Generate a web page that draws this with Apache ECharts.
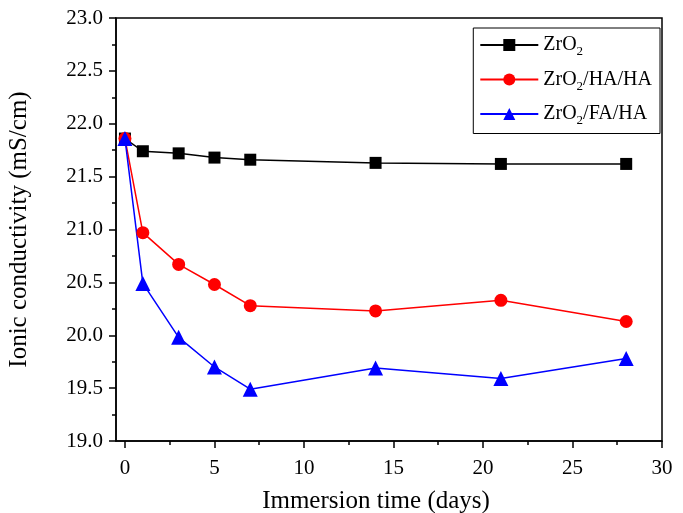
<!DOCTYPE html>
<html>
<head>
<meta charset="utf-8">
<script src="https://cdn.jsdelivr.net/npm/echarts@6/dist/echarts.min.js"></script>
<style>
  html, body { margin: 0; padding: 0; background: #fff; }
  #main { width: 683px; height: 513px; }
</style>
</head>
<body>
<div id="main"></div>
<script>
var days = [0, 1, 3, 5, 7, 14, 21, 28];
var zro2 = [21.86, 21.74, 21.72, 21.68, 21.66, 21.63, 21.62, 21.62];
var zro2HaHa = [21.86, 20.97, 20.67, 20.48, 20.28, 20.23, 20.33, 20.13];
var zro2FaHa = [21.86, 20.49, 19.98, 19.70, 19.49, 19.69, 19.59, 19.78];
var xMajorTicks = [0, 5, 10, 15, 20, 25, 30];
var xMinorTicks = [2.5, 7.5, 12.5, 17.5, 22.5, 27.5];
var seriesNames = ['ZrO{s|2}', 'ZrO{s|2}/HA/HA', 'ZrO{s|2}/FA/HA'];

function pairs(ys) {
    return days.map(function (d, i) { return [d, ys[i]]; });
}

var font = 'Liberation Serif';
var chart = echarts.init(document.getElementById('main'));

var option = {
    animation: false,
    grid: {
        left: 116, right: 21, top: 18, bottom: 72,
        outerBoundsMode: 'none',
        show: true, borderColor: '#000', borderWidth: 1.5
    },
    legend: {
        orient: 'vertical',
        right: 23, top: 28,
        itemWidth: 58, itemHeight: 15,
        itemGap: 11,
        padding: [7, 8, 6, 6],
        borderColor: '#000', borderWidth: 1,
        data: seriesNames,
        textStyle: {
            fontFamily: font, fontSize: 20, color: '#000',
            rich: { s: { fontFamily: font, fontSize: 13, verticalAlign: 'bottom', padding: [14, 0, 0, 0] } }
        }
    },
    xAxis: [{
        type: 'value', min: -0.5, max: 30,
        name: 'Immersion time (days)', nameLocation: 'middle', nameGap: 48,
        nameTextStyle: { fontFamily: font, fontSize: 25, color: '#000', padding: [0, 26, 0, 0] },
        axisLine: { onZero: false, lineStyle: { color: '#000', width: 1.5 } },
        axisTick: { show: true, inside: false, customValues: xMajorTicks, length: 7, lineStyle: { color: '#000', width: 1.5 } },
        axisLabel: { customValues: xMajorTicks, fontFamily: font, fontSize: 21, color: '#000', margin: 17 },
        splitLine: { show: false }
    }, {
        type: 'value', min: -0.5, max: 30, position: 'bottom',
        axisLine: { show: false, onZero: false },
        axisTick: { show: true, inside: false, customValues: xMinorTicks, length: 4, lineStyle: { color: '#000', width: 1.5 } },
        axisLabel: { show: false },
        splitLine: { show: false }
    }],
    yAxis: {
        type: 'value', min: 19, max: 23, interval: 0.5,
        name: 'Ionic conductivity (mS/cm)', nameLocation: 'middle', nameGap: 84,
        nameTextStyle: { fontFamily: font, fontSize: 25, color: '#000' },
        axisLine: { show: true, onZero: false, lineStyle: { color: '#000', width: 1.5 } },
        axisTick: { show: true, inside: false, length: 7, lineStyle: { color: '#000', width: 1.5 } },
        minorTick: { show: true, splitNumber: 2, length: 4, lineStyle: { color: '#000', width: 1.5 } },
        axisLabel: {
            fontFamily: font, fontSize: 21, color: '#000', margin: 13,
            formatter: function (v) { return v.toFixed(1); }
        },
        splitLine: { show: false }
    },
    series: [{
        name: seriesNames[0], type: 'line', data: pairs(zro2),
        symbol: 'rect', symbolSize: 12,
        itemStyle: { color: '#000' }, lineStyle: { color: '#000', width: 1.5 }
    }, {
        name: seriesNames[1], type: 'line', data: pairs(zro2HaHa),
        symbol: 'circle', symbolSize: 13,
        itemStyle: { color: '#ff0000' }, lineStyle: { color: '#ff0000', width: 1.5 }
    }, {
        name: seriesNames[2], type: 'line', data: pairs(zro2FaHa),
        symbol: 'triangle', symbolSize: 15,
        itemStyle: { color: '#0000ff' }, lineStyle: { color: '#0000ff', width: 1.5 }
    }]
};

chart.setOption(option);
</script>
</body>
</html>
